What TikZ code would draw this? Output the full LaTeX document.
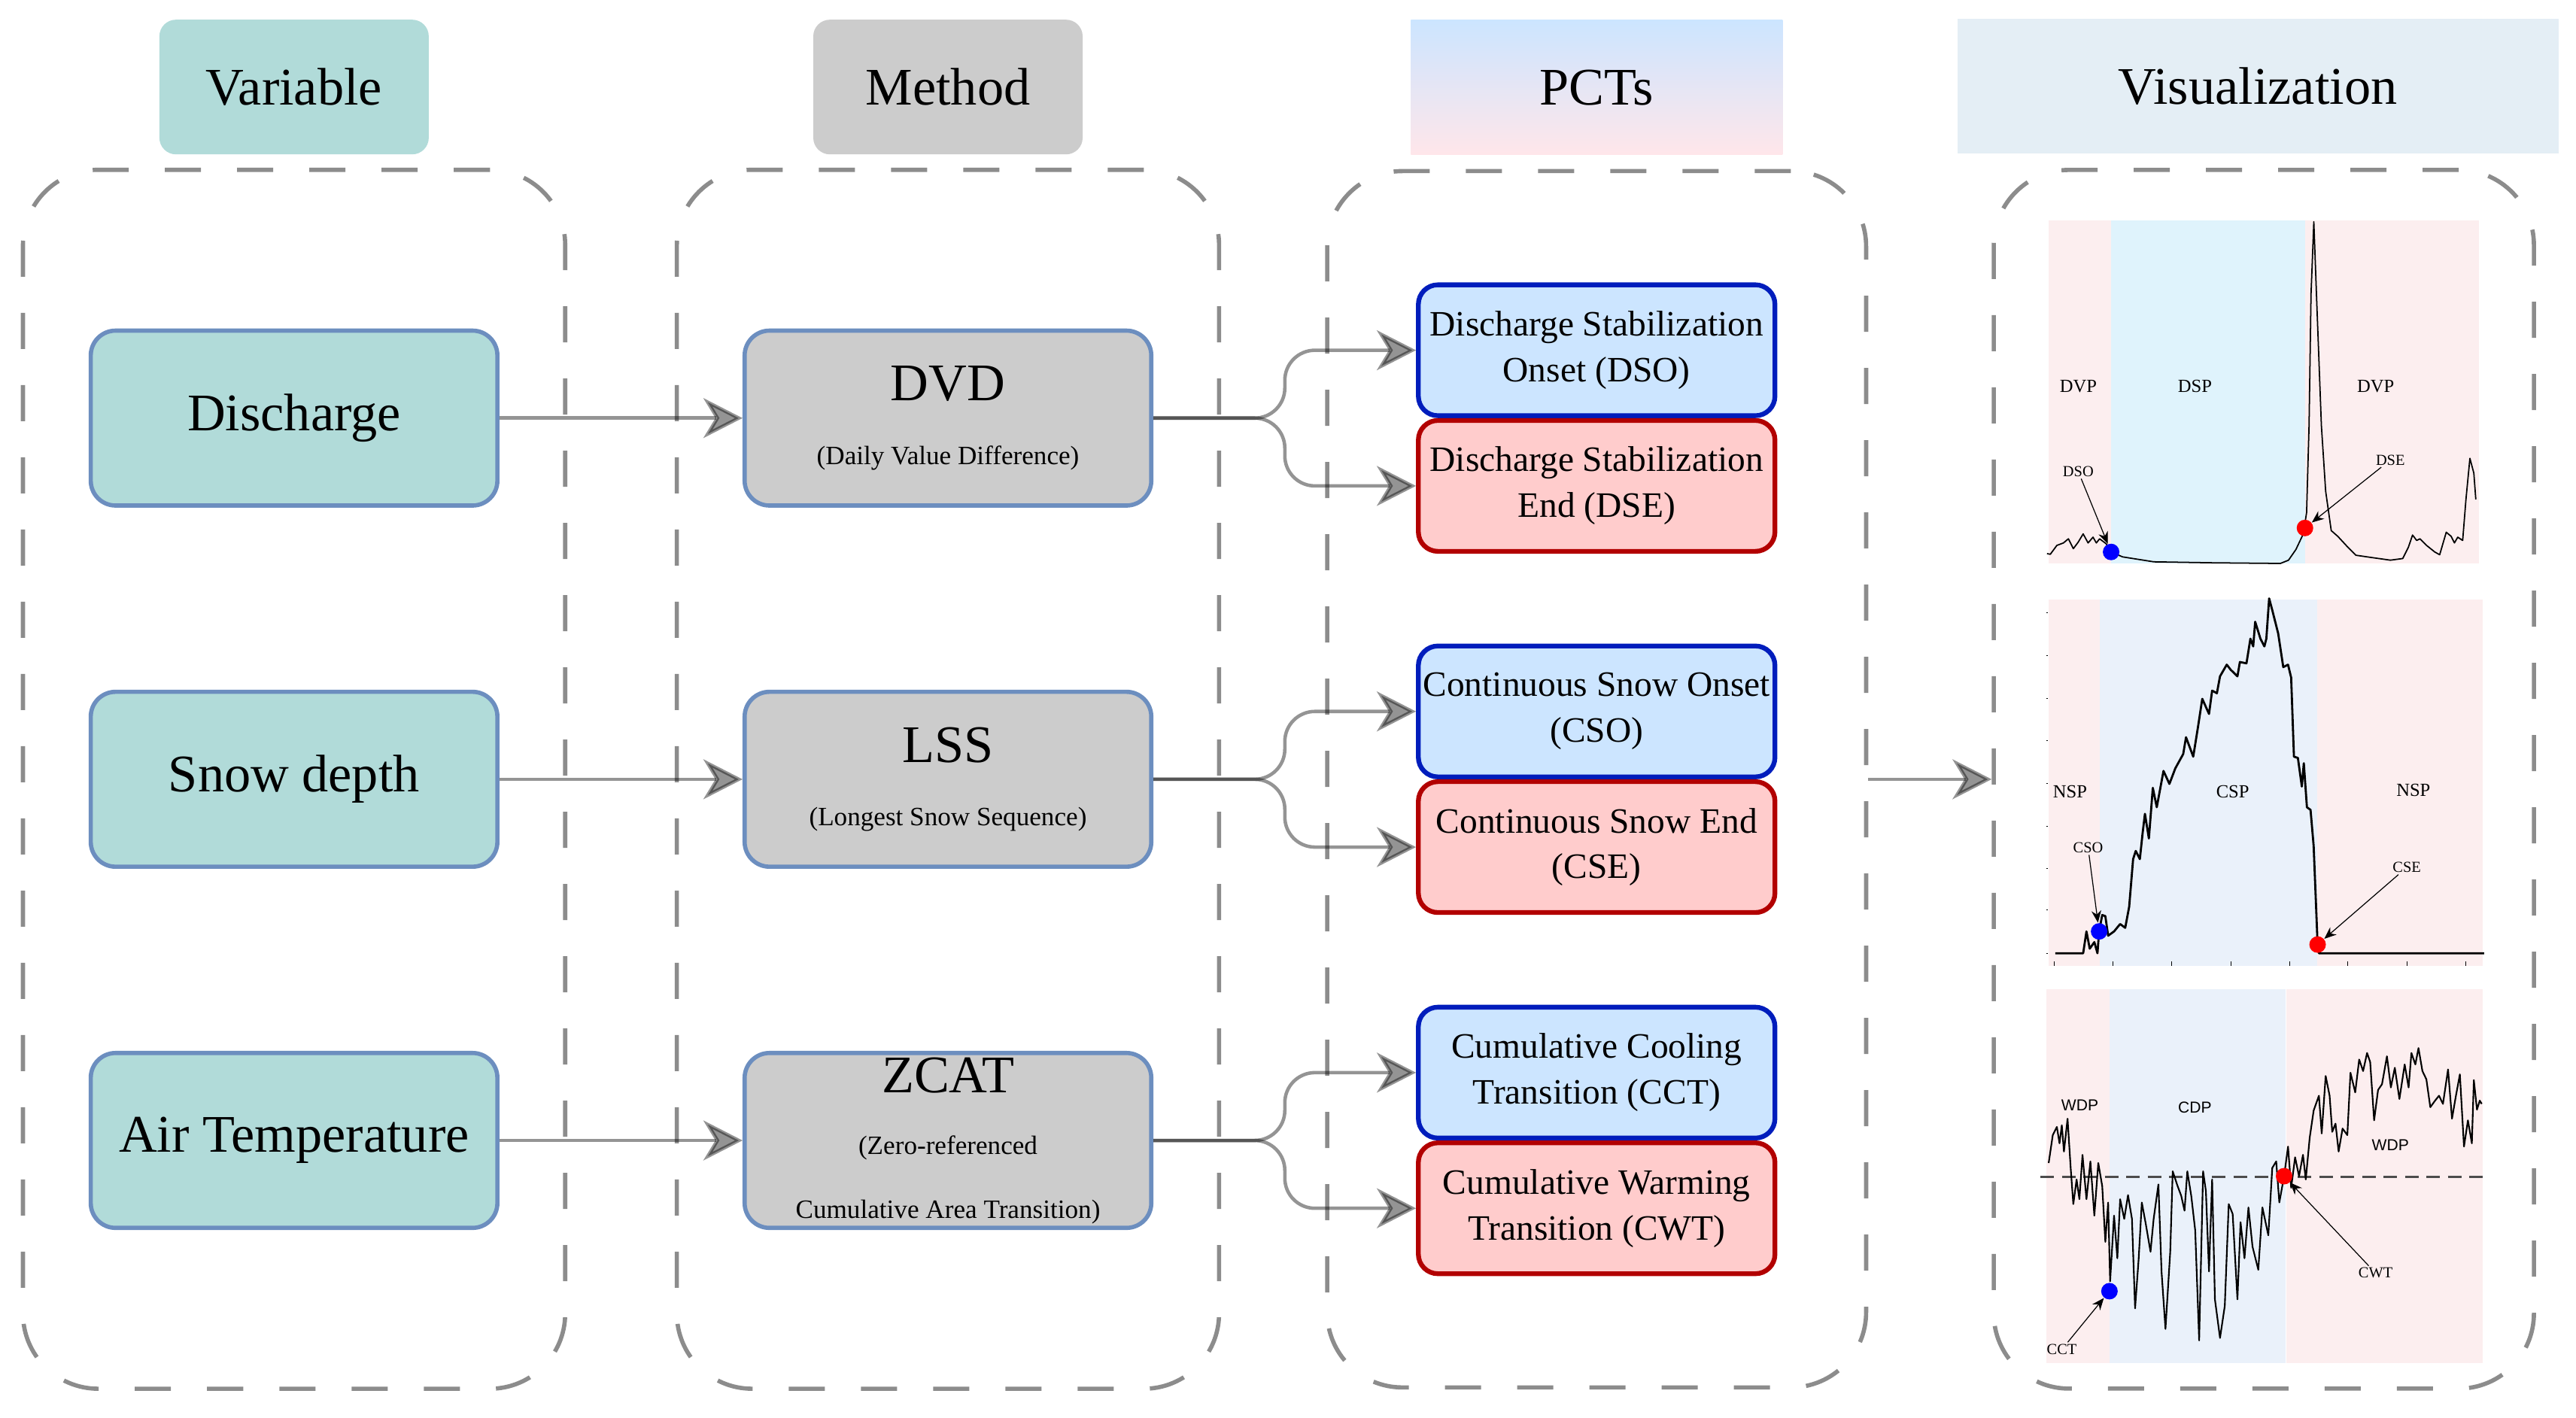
\documentclass[tikz,border=0pt]{standalone}
\usepackage{fontspec}
\setmainfont{Liberation Serif}
\newfontfamily\plotsans{Liberation Sans}
\usepackage{tikz}
\usetikzlibrary{arrows.meta,positioning,fit}
\usepackage{xcolor}
\definecolor{varteal}   {RGB}{177,219,217}
\definecolor{methgray}  {RGB}{204,204,204}
\definecolor{edgeblue}  {RGB}{108,142,191}
\definecolor{onsetfill} {RGB}{204,229,255}
\definecolor{onsetedge} {RGB}{  0, 29,188}
\definecolor{endfill}   {RGB}{255,204,204}
\definecolor{endedge}   {RGB}{178,  0,  0}
\definecolor{pcttop}    {RGB}{204,229,255}
\definecolor{pctbottom} {RGB}{255,230,234}
\definecolor{visfill}   {RGB}{228,238,245}
\definecolor{framegray} {RGB}{140,140,140}
\definecolor{bandpink}  {RGB}{252,238,239}
\definecolor{bandcyan}  {RGB}{223,243,252}
\definecolor{bandblue}  {RGB}{234,241,250}
\newcommand{\subline}{\fontsize{10}{27}\selectfont}
\newcommand{\zline}{\fontsize{10}{28}\selectfont}

\begin{document}
\begin{tikzpicture}[
    x=0.21837mm, y=-0.21837mm,
    node distance=24.2mm and 32.3mm,
    colhead/.style={minimum width=35.8mm, minimum height=17.9mm, inner sep=0pt, font=\fontsize{20}{24}\selectfont},
    varnode/.style={draw=edgeblue, line width=1.6pt, rounded corners=3.3mm, fill=varteal, minimum width=54.05mm, minimum height=23.25mm, inner sep=1pt, align=center, font=\fontsize{20}{24}\selectfont},
    methnode/.style={varnode, fill=methgray},
    pctnode/.style={line width=1.8pt, rounded corners=2.6mm, minimum width=47.4mm, minimum height=17.4mm, inner sep=1pt, align=center, font=\fontsize{13.5}{17.3}\selectfont},
    onset/.style={pctnode, draw=onsetedge, fill=onsetfill},
    ending/.style={pctnode, draw=endedge, fill=endfill},
    groupframe/.style={draw=framegray, line width=1.6pt, dash pattern=on 4.8mm off 4.8mm, rounded corners=10mm, inner sep=0pt},
    flow/.style={-{Stealth[length=5.2mm, width=5.3mm, inset=1.6mm]}, line width=1.3pt, opacity=0.42, rounded corners=4mm},
    trace/.style={line width=0.5pt, line join=round},
    dot/.style={circle, inner sep=0pt, minimum size=2.2mm},
    pointer/.style={-{Stealth[length=1.6mm, width=1.3mm]}, line width=0.35pt},
    plotlabel/.style={inner sep=0.6pt, font=\fontsize{7}{8}\selectfont},
    pointlabel/.style={inner sep=0.6pt, font=\fontsize{5.8}{7}\selectfont}
]
    \useasboundingbox (0,0) rectangle (1568,863);

    % --- Column 1: Variables ---
    \node[varnode] (discharge) at (179,254.5) {Discharge};
    \node[varnode] (snow) [below=of discharge] {Snow depth};
    \node[varnode] (airtemp) [below=of snow] {Air Temperature};

    % --- Column 2: Methods ---
    \node[methnode] (dvd) [right=of discharge] {DVD\\\subline (Daily Value Difference)};
    \node[methnode] (lss) [right=of snow] {LSS\\\subline (Longest Snow Sequence)};
    \node[methnode] (zcat) [right=of airtemp] {ZCAT\\[-0.5pt]\zline (Zero-referenced\\\zline Cumulative Area Transition)};

    % --- Column 3: PCTs (onset above, end below) ---
    \node[onset, anchor=south west] (dso) at ([xshift=34.9mm]dvd.east) {Discharge Stabilization\\Onset (DSO)};
    \node[ending] (dse) [below=0mm of dso] {Discharge Stabilization\\End (DSE)};
    \node[onset, anchor=south west] (cso) at ([xshift=34.9mm]lss.east) {Continuous Snow Onset\\(CSO)};
    \node[ending] (cse) [below=0mm of cso] {Continuous Snow End\\(CSE)};
    \node[onset, anchor=south west] (cct) at ([xshift=34.9mm]zcat.east) {Cumulative Cooling\\Transition (CCT)};
    \node[ending] (cwt) [below=0mm of cct] {Cumulative Warming\\Transition (CWT)};

    % --- Dashed group frames and column headers ---
    \node[groupframe, fit=(discharge)(airtemp), inner xsep=8.73mm, inner ysep=21.1mm] (varframe) {};
    \node[groupframe, fit=(dvd)(zcat), inner xsep=8.73mm, inner ysep=21.1mm] (methframe) {};
    \node[groupframe, fit=(dso)(cwt), inner xsep=11.8mm, inner ysep=14.8mm] (pctframe) {};
    \node[groupframe, minimum width=71.8mm, minimum height=162mm, right=16.4mm of pctframe] (visframe) {};

    \node[colhead, fill=varteal, rounded corners=2.2mm, above=1.7mm of varframe] (varhead) {Variable};
    \node[colhead, fill=methgray, rounded corners=2.2mm, above=1.7mm of methframe] (methhead) {Method};
    \node[colhead, minimum width=49.4mm, top color=pcttop, bottom color=pctbottom, above=1.8mm of pctframe] (pcthead) {PCTs};
    \node[colhead, minimum width=79.9mm, fill=visfill, above=1.8mm of visframe, xshift=-0.8mm] (vishead) {Visualization};

    % --- Flows ---
    \draw[flow] (discharge) -- (dvd);
    \draw[flow] (snow) -- (lss);
    \draw[flow] (airtemp) -- (zcat);
    \draw[flow] (dvd.east) -- ++(80,0) |- (dso.west);
    \draw[flow] (dvd.east) -- ++(80,0) |- (dse.west);
    \draw[flow] (lss.east) -- ++(80,0) |- (cso.west);
    \draw[flow] (lss.east) -- ++(80,0) |- (cse.west);
    \draw[flow] (zcat.east) -- ++(80,0) |- (cct.west);
    \draw[flow] (zcat.east) -- ++(80,0) |- (cwt.west);
    \draw[flow] (pctframe) -- (visframe);

    % --- Panel 1: discharge (DVP / DSP / DVP) ---
    \fill[bandpink] (1247,134) rectangle (1285,343);
    \fill[bandcyan] (1285,134) rectangle (1403,343);
    \fill[bandpink] (1403,134) rectangle (1509,343);
    \draw[trace] plot coordinates {(1246,337) (1248,337.4) (1252,332) (1256,330.5) (1259,328) (1262,334) (1265,330) (1268,325) (1271,330.5) (1274,327) (1276,330.5) (1278,328) (1282,331) (1285,336) (1292,339) (1311,342) (1347,342.6) (1388,343) (1393,341) (1397.5,334.5) (1402,325) (1404,312) (1405.5,259) (1406.7,179) (1408.4,135) (1410,179) (1413,259) (1415.6,299) (1419,323) (1423,326.5) (1429,333) (1434,338) (1443,339.3) (1455,341) (1462.5,340) (1466,333) (1468.5,325.7) (1471,329) (1473,328) (1477,332) (1482,336) (1485,337.7) (1489,324) (1492,326.5) (1494,330.5) (1496,327) (1499,329) (1501,304) (1503.4,279) (1505.8,288) (1507,304)};
    \node[plotlabel] (dvp1) at (1265,235) {DVP};
    \node[plotlabel] (dsp) at (1336,235) {DSP};
    \node[plotlabel] (dvp2) at (1446,235) {DVP};
    \node[dot, fill=blue] (dsodot) at (1285,336) {};
    \node[dot, fill=red] (dsedot) at (1403,321.4) {};
    \node[pointlabel] (dsotag) at (1265,287) {DSO};
    \node[pointlabel] (dsetag) at (1455,280) {DSE};
    \draw[pointer] (dsotag) -- (dsodot);
    \draw[pointer] (dsetag) -- (dsedot);

    % --- Panel 2: snow depth (NSP / CSP / NSP) ---
    \fill[bandpink] (1247,365) rectangle (1278,588);
    \fill[bandblue] (1278,365) rectangle (1410.3,588);
    \fill[bandpink] (1410.3,365) rectangle (1511,588);
    \draw[line width=0.3pt] (1245.5,373) -- (1246.5,373) (1245.5,399) -- (1246.5,399) (1245.5,425) -- (1246.5,425) (1245.5,451) -- (1246.5,451) (1245.5,477) -- (1246.5,477) (1245.5,503) -- (1246.5,503) (1245.5,528.5) -- (1246.5,528.5) (1245.5,554) -- (1246.5,554) (1245.5,580.5) -- (1246.5,580.5);
    \draw[line width=0.3pt] (1250.3,585.4) -- (1250.3,588) (1286.1,585.4) -- (1286.1,588) (1322,585.4) -- (1322,588) (1357.8,585.4) -- (1357.8,588) (1393.9,585.4) -- (1393.9,588) (1429,585.4) -- (1429,588) (1465.1,585.4) -- (1465.1,588) (1501,585.4) -- (1501,588);
    \draw[trace, line width=0.8pt] plot coordinates {(1251,580.3) (1268,580.3) (1270,567) (1272,577.5) (1274.8,573.5) (1276.7,580.3) (1277.7,567) (1279.6,557) (1281.5,557.7) (1283.2,569.6) (1286.8,567) (1290.5,562.5) (1293.6,564.8) (1296,552) (1298.4,523) (1300,518) (1302.5,523) (1304.2,507) (1305.6,495.4) (1308,510.4) (1310.4,479.6) (1312.8,491.4) (1316.9,469.3) (1320.5,477.2) (1324.1,467.7) (1328.9,459) (1330.6,448.8) (1335,460.6) (1337.9,442.5) (1340.5,425.4) (1344.6,434.6) (1346.5,420.4) (1349.4,422) (1351.3,411.7) (1355.4,404.6) (1357.8,407.7) (1361.9,411.7) (1363.4,403) (1367.4,403.8) (1369.8,388.8) (1371.5,393.5) (1372.7,378.5) (1375.9,388.8) (1378.3,393.5) (1379.5,388.8) (1381.2,364.3) (1383.1,371.4) (1386.7,385.6) (1389.8,406.1) (1392.7,404.6) (1394.6,412.5) (1396.3,460.6) (1398.7,461.4) (1401.1,478.8) (1402.3,464.6) (1404.2,491.4) (1406.4,493) (1408.3,515) (1410.7,575) (1411.5,580.3) (1512,580.3)};
    \node[plotlabel] (nsp1) at (1260,482) {NSP};
    \node[plotlabel] (csp) at (1359,482) {CSP};
    \node[plotlabel] (nsp2) at (1469,481) {NSP};
    \node[dot, fill=blue] (csodot) at (1277.7,567) {};
    \node[dot, fill=red] (csedot) at (1410.7,575) {};
    \node[pointlabel] (csotag) at (1271,516) {CSO};
    \node[pointlabel] (csetag) at (1465,528) {CSE};
    \draw[pointer] (csotag) -- (csodot);
    \draw[pointer] (csetag) -- (csedot);

    % --- Panel 3: air temperature (WDP / CDP / WDP) ---
    \fill[bandpink] (1245.5,602) rectangle (1284,830);
    \fill[bandblue] (1284,602) rectangle (1391,830);
    \fill[bandpink] (1391.7,602) rectangle (1511.3,830);
    \draw[black!70, line width=0.8pt, dash pattern=on 1.8mm off 1.05mm] (1242,716.4) -- (1515.5,716.4);
    \draw[trace, line width=0.6pt] plot coordinates {(1247,708) (1249.5,691) (1252,686) (1253.6,696) (1255,685) (1256.3,701) (1258.5,681) (1260.4,711) (1262,733) (1264,718) (1265.7,730) (1267.6,703) (1270,730) (1272.4,707) (1274.8,740) (1277.2,708) (1279.6,722) (1281.5,756) (1283.2,732) (1284.4,780) (1286.8,740) (1288.8,766) (1290.5,730) (1293,742) (1295.3,727.5) (1297.7,742) (1299.6,796.5) (1301.8,766) (1303.7,732) (1306.1,745) (1309,762) (1310.9,742) (1313.8,721) (1315.7,774) (1318.1,809) (1321,762) (1322.5,713) (1325.3,721.5) (1327.7,728) (1329.7,737) (1331.4,713) (1333.8,728) (1336.2,749) (1338.6,816) (1341,713) (1342.7,725) (1344.6,774) (1346.5,718) (1348.2,791) (1351.3,814.5) (1354.2,795) (1356.6,733) (1359,739) (1361.9,791) (1363.8,744) (1366.2,766) (1368.6,735) (1371.1,759) (1374.6,773) (1377.1,735) (1380.7,752) (1383.1,711) (1385.5,707) (1387.4,732) (1390.3,716) (1392.7,698) (1394.6,723) (1397,704.5) (1399.4,716) (1401.8,703) (1403.5,718) (1405.9,692.5) (1408.3,676) (1411.5,667) (1413.2,690) (1415.6,655) (1418,667) (1419.6,689) (1421.6,684) (1423.5,701) (1425.9,687) (1428.8,691) (1430.7,653) (1433.6,665) (1436,645) (1438.4,652) (1440.8,641) (1442.7,646.5) (1445.1,682) (1447.5,663.5) (1449.9,660) (1452.9,643) (1455.3,662) (1457.7,650) (1460.5,669) (1463.7,648) (1466.1,662) (1467.8,641) (1470.2,648) (1472.1,638) (1474.5,652) (1476.9,657) (1479.3,674) (1482.2,670) (1484.6,667) (1487,672) (1490.1,651) (1492.5,681) (1494.9,667) (1497.3,654) (1499.8,698) (1502.2,682) (1504.6,696) (1505.8,657.5) (1507.7,675.5) (1509.4,670) (1510.6,672)};
    \node[plotlabel, font=\plotsans\fontsize{6}{7}\selectfont] (wdp1) at (1266,673) {WDP};
    \node[plotlabel, font=\plotsans\fontsize{6}{7}\selectfont] (cdp) at (1336,674) {CDP};
    \node[plotlabel, font=\plotsans\fontsize{6}{7}\selectfont] (wdp2) at (1455,697) {WDP};
    \node[dot, fill=blue] (cctdot) at (1284,786) {};
    \node[dot, fill=red] (cwtdot) at (1390.3,716) {};
    \node[pointlabel] (ccttag) at (1255,821.5) {CCT};
    \node[pointlabel] (cwttag) at (1446,775) {CWT};
    \draw[pointer] (ccttag) -- (cctdot);
    \draw[pointer] (cwttag) -- (cwtdot);

\end{tikzpicture}
\end{document}
